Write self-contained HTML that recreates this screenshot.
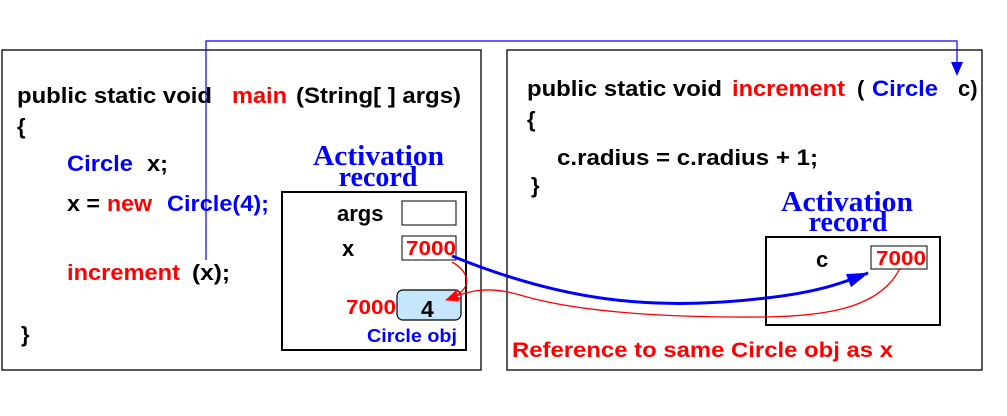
<!DOCTYPE html>
<html><head><style>
html,body{margin:0;padding:0;background:#fff;}
svg{display:block;}
text{font-family:"Liberation Sans",sans-serif;font-weight:bold;}
.s{font-family:"Liberation Serif",serif;font-weight:bold;}
</style></head><body>
<svg width="1007" height="416" viewBox="0 0 1007 416" xmlns="http://www.w3.org/2000/svg">
<defs>
<marker id="abig" markerWidth="22" markerHeight="14" refX="21" refY="7" orient="auto" markerUnits="userSpaceOnUse"><path d="M0,0 L22,7 L0,14z" fill="#00f"/></marker>
<marker id="ar" markerWidth="14" markerHeight="12" refX="13" refY="6" orient="auto" markerUnits="userSpaceOnUse"><path d="M0,0 L14,6 L0,12 L4,6z" fill="#f00"/></marker>
</defs>
<rect x="2" y="50" width="479" height="320" fill="none" stroke="#000" stroke-width="1.3"/>
<rect x="507" y="50" width="475" height="320" fill="none" stroke="#000" stroke-width="1.3"/>
<polyline points="206,260 206,41 957,41 957,64" fill="none" stroke="#00f" stroke-width="1.2"/>
<path d="M951,62 L963,62 L957,76z" fill="#00f"/>

<text x="17" y="103" font-size="22" textLength="195" lengthAdjust="spacingAndGlyphs">public static void</text>
<text x="232" y="103" font-size="22" fill="#f00" textLength="55" lengthAdjust="spacingAndGlyphs">main</text>
<text x="296" y="103" font-size="22" textLength="165" lengthAdjust="spacingAndGlyphs">(String[ ] args)</text>
<text x="17" y="134" font-size="22">{</text>
<text x="67" y="171" font-size="22" fill="#00f" textLength="66" lengthAdjust="spacingAndGlyphs">Circle</text>
<text x="147" y="171" font-size="22" textLength="21" lengthAdjust="spacingAndGlyphs">x;</text>
<text x="67" y="211" font-size="22" textLength="33" lengthAdjust="spacingAndGlyphs">x =</text>
<text x="107" y="211" font-size="22" fill="#f00" textLength="45" lengthAdjust="spacingAndGlyphs">new</text>
<text x="167" y="211" font-size="22" fill="#00f" textLength="102" lengthAdjust="spacingAndGlyphs">Circle(4);</text>
<text x="67" y="280" font-size="22" fill="#f00" textLength="113" lengthAdjust="spacingAndGlyphs">increment</text>
<text x="192" y="280" font-size="22" textLength="38" lengthAdjust="spacingAndGlyphs">(x);</text>
<text x="21" y="342" font-size="22">}</text>

<text x="313" y="165" class="s" font-size="28" fill="#00f" textLength="131" lengthAdjust="spacingAndGlyphs">Activation</text>
<text x="378" y="186" class="s" font-size="28" fill="#00f" text-anchor="middle">record</text>
<rect x="282" y="192" width="184" height="158" fill="none" stroke="#000" stroke-width="2"/>
<text x="337" y="221" font-size="22">args</text>
<rect x="402" y="201" width="54" height="24" fill="#fff" stroke="#000"/>
<text x="342" y="256" font-size="22">x</text>
<rect x="402" y="236" width="54" height="24" fill="#fff" stroke="#000"/>
<text x="406" y="255" font-size="20" fill="#f00" textLength="50" lengthAdjust="spacingAndGlyphs">7000</text>
<text x="346" y="314" font-size="20" fill="#f00" textLength="50" lengthAdjust="spacingAndGlyphs">7000</text>
<rect x="397" y="290" width="64" height="30" rx="6" fill="#c6e6fb" stroke="#000" stroke-width="1.2"/>
<text x="421" y="317" font-size="23">4</text>
<text x="367" y="342" font-size="18" fill="#00f" textLength="90" lengthAdjust="spacingAndGlyphs">Circle obj</text>

<text x="527" y="96" font-size="22" textLength="195" lengthAdjust="spacingAndGlyphs">public static void</text>
<text x="732" y="96" font-size="22" fill="#f00" textLength="113" lengthAdjust="spacingAndGlyphs">increment</text>
<text x="857" y="96" font-size="22">(</text>
<text x="872" y="96" font-size="22" fill="#00f" textLength="66" lengthAdjust="spacingAndGlyphs">Circle</text>
<text x="958" y="96" font-size="22">c)</text>
<text x="527" y="127" font-size="22">{</text>
<text x="557" y="165" font-size="22" textLength="261" lengthAdjust="spacingAndGlyphs">c.radius = c.radius + 1;</text>
<text x="531" y="193" font-size="22">}</text>

<text x="781" y="211" class="s" font-size="28" fill="#00f" textLength="132" lengthAdjust="spacingAndGlyphs">Activation</text>
<text x="848" y="231" class="s" font-size="28" fill="#00f" text-anchor="middle">record</text>
<rect x="766" y="237" width="174" height="88" fill="none" stroke="#000" stroke-width="2"/>
<text x="816" y="267" font-size="22">c</text>
<rect x="871" y="246" width="56" height="23" fill="#fff" stroke="#000"/>
<text x="876" y="265" font-size="20" fill="#f00" textLength="50" lengthAdjust="spacingAndGlyphs">7000</text>

<text x="512" y="357" font-size="21" fill="#f00" textLength="381" lengthAdjust="spacingAndGlyphs">Reference to same Circle obj as x</text>

<path d="M452,256 C560,300 650,312 766,298 C820,292 845,282 868,273" fill="none" stroke="#00f" stroke-width="3" marker-end="url(#abig)"/>
<path d="M900,268 C880,310 820,316 766,317 C650,318 570,310 520,295 C490,286 470,290 448,299" fill="none" stroke="#f00" stroke-width="1.3" marker-end="url(#ar)"/>
<path d="M452,262 C470,272 475,290 446,300" fill="none" stroke="#f00" stroke-width="1.3" marker-end="url(#ar)"/>
</svg>
</body></html>
